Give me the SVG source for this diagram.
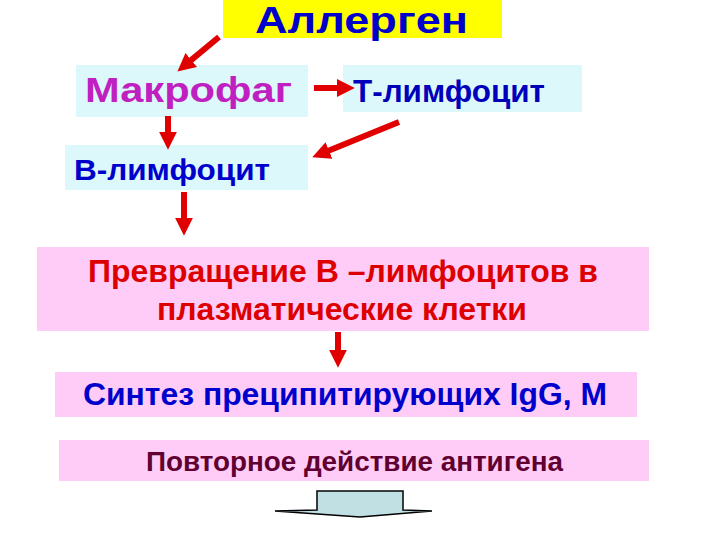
<svg xmlns="http://www.w3.org/2000/svg" width="720" height="540" viewBox="0 0 720 540">
<style>
.t{font-family:"Liberation Sans",Arial,sans-serif;font-weight:bold}
.cy{fill:#DDF8FB}
.pk{fill:#FFCCF7}
.ar{stroke:#E00000;stroke-width:6;fill:none;marker-end:url(#ah)}
</style>
<defs>
<marker id="ah" viewBox="0 0 10 10" refX="4" refY="5" markerWidth="3" markerHeight="3.2" orient="auto" markerUnits="strokeWidth">
<path d="M0,0 L10,5 L0,10 Z" fill="#E00000"/>
</marker>
</defs>
<rect width="720" height="540" fill="#FFFFFF"/>
<g id="allergen">
<rect x="223" y="0" width="279" height="38" fill="#FFFF00"/>
<text class="t" x="255" y="33" font-size="37" fill="#0000CC" textLength="213" lengthAdjust="spacingAndGlyphs">Аллерген</text>
</g>
<g id="macrophage">
<rect class="cy" x="76" y="65" width="232" height="52"/>
<text class="t" x="85" y="102" font-size="35" fill="#C020C0" textLength="207" lengthAdjust="spacingAndGlyphs">Макрофаг</text>
</g>
<g id="t-lymphocyte">
<rect class="cy" x="343" y="65" width="239" height="47"/>
<text class="t" x="353" y="102" font-size="32" fill="#0000BB" textLength="192" lengthAdjust="spacingAndGlyphs">Т-лимфоцит</text>
</g>
<g id="b-lymphocyte">
<rect class="cy" x="65" y="145" width="243" height="45"/>
<text class="t" x="74" y="180" font-size="30" fill="#0000CC" textLength="196" lengthAdjust="spacingAndGlyphs">В-лимфоцит</text>
</g>
<g id="conversion">
<rect class="pk" x="37" y="247" width="612" height="84"/>
<text class="t" x="88" y="282" font-size="32" fill="#DD0000" textLength="510" lengthAdjust="spacingAndGlyphs">Превращение В –лимфоцитов в</text>
<text class="t" x="157" y="320" font-size="32" fill="#DD0000" textLength="370" lengthAdjust="spacingAndGlyphs">плазматические клетки</text>
</g>
<g id="synthesis">
<rect class="pk" x="55" y="372" width="582" height="45"/>
<text class="t" x="83" y="405" font-size="31" fill="#0000CC" textLength="524" lengthAdjust="spacingAndGlyphs">Синтез преципитирующих IgG, M</text>
</g>
<g id="repeat">
<rect class="pk" x="59" y="440" width="590" height="41"/>
<text class="t" x="146" y="471" font-size="27" fill="#600030" textLength="417" lengthAdjust="spacingAndGlyphs">Повторное действие антигена</text>
</g>
<g id="connectors">
<line class="ar" x1="219" y1="37" x2="185.7" y2="64.6"/>
<line class="ar" x1="314" y1="88" x2="344" y2="88"/>
<line class="ar" x1="168" y1="116" x2="168" y2="139"/>
<line class="ar" x1="399" y1="122" x2="322.3" y2="153.2"/>
<line class="ar" x1="184" y1="192" x2="184" y2="225"/>
<line class="ar" x1="338" y1="332" x2="338" y2="357"/>
<path d="M317,491 L403,491 L403,510 L432,511 L360,517 L275,511 L317,510 Z" fill="#C0E0E4" stroke="#000000" stroke-width="1.5"/>
</g>
</svg>
